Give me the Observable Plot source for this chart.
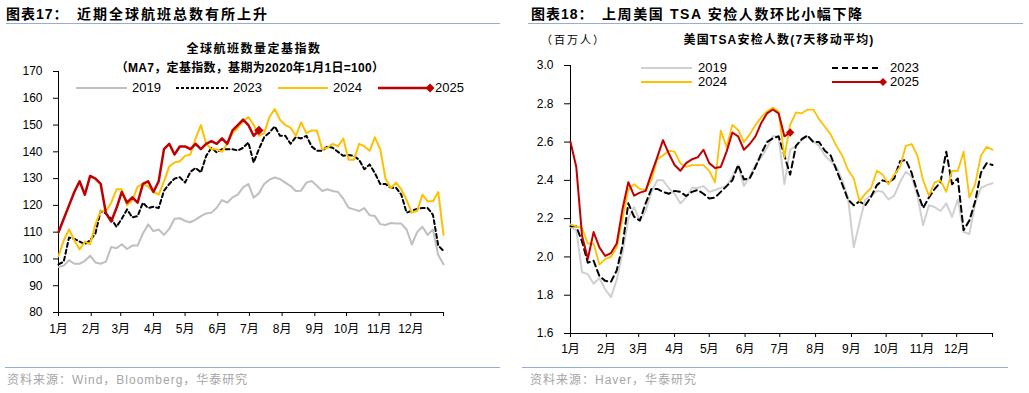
<!DOCTYPE html>
<html><head><meta charset="utf-8">
<script src="https://cdn.jsdelivr.net/npm/d3@7"></script>
<script src="https://cdn.jsdelivr.net/npm/@observablehq/plot@0.6"></script>
<style>
body{margin:0;background:#fff;}
#root{position:relative;width:1029px;height:393px;overflow:hidden;font-family:"Liberation Sans","Noto Sans CJK SC",sans-serif;color:#000;background:#fff;}
.abs{position:absolute;white-space:nowrap;}
.title{font-size:14px;font-weight:bold;line-height:16px;letter-spacing:2px;}
.hr{position:absolute;height:0;border-top:1.5px solid #94aed4;}
.src{font-size:12px;color:#a6a6a6;letter-spacing:1px;line-height:14px;}
.ctitle{font-size:12px;font-weight:bold;line-height:14px;letter-spacing:1.5px;transform:translateX(-50%);}
.leg{font-size:13px;line-height:16px;}
.chart{position:absolute;}
</style></head><body><div id="root"></div>
<script>
// ---------- data ----------
const STEP_DAYS = 5; // values are read every 5 days starting Jan 1
const monthLabels = ["1月","2月","3月","4月","5月","6月","7月","8月","9月","10月","11月","12月"];
const seriesNames = ["2019","2023","2024","2025"];

// Global flights index (MA7, 2020-01-01 = 100)
const flights2019 = [97,97.5,99.5,98.2,98.2,99.3,101.2,98.7,98.2,99,104.5,104,105.5,103.7,105,105,109.5,112.9,110.4,111,109,111.2,115,115.2,114.2,113.7,114.7,116,117,117.3,119.1,122,121,123,124,126.7,128,122.9,124.5,128,129.6,130.4,129.8,128.5,127.2,125.4,125.5,128.5,129.1,127.3,125.4,126,125.4,125,122.5,119.1,118.5,117.9,119,116.3,116,113,112.7,113.4,113.2,113.2,111,105.4,110,112,109,111,101.5,98];
const flights2023 = [98,99,108,107.5,106.5,105.5,107,109.5,118,117,115,112,115,118.5,115.5,116,121,119,119.5,119,125.5,128,130,130.5,128.5,132.5,134,132.3,138.5,141.5,139.8,141,141,141,140.5,141.5,143.5,136,141,145.5,147.2,149.5,146,146,143,145.5,145,146,142,140.4,140.4,142,141.5,140,138.5,138.8,138.5,137,133.5,135.3,132,128,128,126.6,126.6,124,117.3,118,118.7,119,119,116.5,105,103];
const flights2024 = [101,107,111,107,103.5,106.5,105.5,113,118,118,121,126,126,120,122,127,128,127,125,124,129,134.5,136,136.5,138.5,139,145,150,143,141,141,140,143,147,149,151.5,153,150,146,147,153,156,152,150,149,146,151,147,148,148,141,141.5,143,142,145,137,137,143,142,140.4,145.4,141,130,126.5,128.5,126,122,117.3,118,124,121.5,121.5,125,109];
const flights2025 = [110,115,120,125,129,124,131,130,128,117,114,119,125,121,123,121,128,129,125,129,141,143,139,142,142,141,143,141,143,144,143,145,143,148,150,152,150,146,148];

// US TSA checkpoint numbers (7-day MA, millions)
const tsa2019 = [2.155,2.14,1.92,1.91,1.86,1.89,1.83,1.79,1.88,2.02,2.20,2.26,2.19,2.24,2.34,2.40,2.40,2.36,2.33,2.28,2.31,2.36,2.36,2.37,2.34,2.35,2.36,2.37,2.42,2.48,2.37,2.42,2.48,2.52,2.57,2.63,2.63,2.38,2.56,2.58,2.61,2.63,2.605,2.58,2.53,2.50,2.47,2.40,2.31,2.05,2.18,2.30,2.32,2.345,2.34,2.30,2.32,2.39,2.445,2.42,2.32,2.165,2.27,2.26,2.24,2.28,2.21,2.30,2.13,2.12,2.28,2.36,2.375,2.385];
const tsa2023 = [2.16,2.16,2.08,1.97,1.98,1.90,1.875,1.87,1.93,2.06,2.28,2.21,2.19,2.28,2.355,2.355,2.34,2.33,2.345,2.34,2.318,2.34,2.35,2.33,2.305,2.31,2.34,2.37,2.40,2.48,2.405,2.41,2.47,2.54,2.60,2.62,2.63,2.53,2.43,2.58,2.615,2.635,2.60,2.60,2.555,2.53,2.455,2.38,2.30,2.27,2.29,2.27,2.315,2.375,2.40,2.39,2.41,2.50,2.507,2.44,2.34,2.255,2.31,2.355,2.39,2.55,2.38,2.41,2.14,2.19,2.29,2.44,2.49,2.48];
const tsa2024 = [2.17,2.16,2.15,2.07,2.07,1.96,1.99,2.00,2.05,2.20,2.35,2.38,2.355,2.35,2.40,2.51,2.53,2.555,2.55,2.49,2.47,2.48,2.48,2.48,2.45,2.39,2.66,2.575,2.69,2.663,2.60,2.64,2.69,2.73,2.76,2.78,2.76,2.52,2.69,2.755,2.75,2.77,2.77,2.72,2.68,2.64,2.58,2.53,2.455,2.41,2.29,2.33,2.36,2.45,2.43,2.38,2.43,2.47,2.58,2.59,2.53,2.40,2.32,2.39,2.40,2.34,2.45,2.45,2.55,2.31,2.38,2.53,2.575,2.56];
const tsa2025 = [2.60,2.47,2.11,1.99,2.13,2.05,2.005,2.02,2.07,2.25,2.39,2.32,2.336,2.345,2.435,2.52,2.61,2.54,2.48,2.45,2.49,2.51,2.52,2.56,2.49,2.465,2.47,2.55,2.65,2.63,2.56,2.59,2.63,2.70,2.75,2.77,2.75,2.63,2.65];

const leftYTicks = [80,90,100,110,120,130,140,150,160,170];
const rightYTicks = [1.6,1.8,2.0,2.2,2.4,2.6,2.8,3.0];

// ---------- helpers ----------
const yearStart = new Date(Date.UTC(2019,0,1));
const yearEnd = new Date(Date.UTC(2020,0,1));
const dayDate = i => new Date(Date.UTC(2019,0,1 + i*STEP_DAYS));
const toRows = (vals) => vals.map((v,i)=>({date: dayDate(i), value: v}));
const monthTicks = d3.utcMonth.range(yearStart, new Date(Date.UTC(2020,0,2)));
const fmtMonth = d => d.getUTCFullYear() === 2019 ? monthLabels[d.getUTCMonth()] : "";

const COLORS = {"2019":"#bfbfbf","2023":"#000000","2024":"#ffc000","2025":"#c00000"};
const root = document.getElementById("root");

function addDiv(cls, text, css){
  const d = document.createElement("div");
  d.className = "abs " + (cls||"");
  d.textContent = text;
  Object.assign(d.style, css);
  root.appendChild(d);
  return d;
}
function addHr(x1,x2,y){
  const d = document.createElement("div");
  d.className = "hr";
  Object.assign(d.style,{left:x1+"px",top:y+"px",width:(x2-x1)+"px"});
  root.appendChild(d);
}
function legendItem(x, y, w, name, opts){
  const ns = "http://www.w3.org/2000/svg";
  const svg = document.createElementNS(ns,"svg");
  svg.setAttribute("width", w+8); svg.setAttribute("height", 12);
  svg.style.position="absolute"; svg.style.left=(x)+"px"; svg.style.top=(y-6)+"px"; svg.style.overflow="visible";
  const ln = document.createElementNS(ns,"line");
  ln.setAttribute("x1",0); ln.setAttribute("x2",w); ln.setAttribute("y1",6); ln.setAttribute("y2",6);
  ln.setAttribute("stroke", opts.color); ln.setAttribute("stroke-width", opts.width||2);
  if (opts.dash) ln.setAttribute("stroke-dasharray", opts.dash);
  svg.appendChild(ln);
  if (opts.diamond){
    const p = document.createElementNS(ns,"path");
    const s = opts.diamond;
    p.setAttribute("d",`M${w},${6-s}L${w+s},6L${w},${6+s}L${w-s},6Z`);
    p.setAttribute("fill", opts.color);
    svg.appendChild(p);
  }
  root.appendChild(svg);
  addDiv("leg", name, {left:(x+w+opts.gap)+"px", top:(y-8)+"px"});
}

// ---------- headers ----------
addDiv("title","图表17：",{left:"6px",top:"6px",letterSpacing:"1px"});
addDiv("title","近期全球航班总数有所上升",{left:"77px",top:"6px"});
addHr(6,500,23);
addDiv("title","图表18：",{left:"531px",top:"6px",letterSpacing:"1px"});
addDiv("title","上周美国 TSA 安检人数环比小幅下降",{left:"602px",top:"6px",letterSpacing:"1.6px"});
addHr(528,1023,23);

addDiv("ctitle","全球航班数量定基指数",{left:"254px",top:"42px"});
addDiv("ctitle","（MA7，定基指数，基期为2020年1月1日=100）",{left:"250px",top:"61px",letterSpacing:"0.3px"});
addDiv("","（百万人）",{left:"541px",top:"33px",fontSize:"11px",lineHeight:"14px",letterSpacing:"2px"});
addDiv("ctitle","美国TSA安检人数(7天移动平均)",{left:"779px",top:"33px",letterSpacing:"1.2px"});

// ---------- charts ----------
const styleL = {
  "2019": {stroke: COLORS["2019"], strokeWidth: 2},
  "2023": {stroke: COLORS["2023"], strokeWidth: 2, strokeDasharray: "4,3"},
  "2024": {stroke: COLORS["2024"], strokeWidth: 2},
  "2025": {stroke: COLORS["2025"], strokeWidth: 2.5}
};
const styleR = {
  "2019": {stroke: "#d0d0d0", strokeWidth: 2},
  "2023": {stroke: COLORS["2023"], strokeWidth: 2, strokeDasharray: "6,4"},
  "2024": {stroke: COLORS["2024"], strokeWidth: 1.8},
  "2025": {stroke: COLORS["2025"], strokeWidth: 2}
};
const plotStyle = {fontFamily:"'Liberation Sans','Noto Sans CJK SC',sans-serif", fontSize:"12px", color:"#000", background:"transparent", overflow:"visible"};

const leftData = {"2019": flights2019, "2023": flights2023, "2024": flights2024, "2025": flights2025};
const rightData = {"2019": tsa2019, "2023": tsa2023, "2024": tsa2024, "2025": tsa2025};

const left = Plot.plot({
  width: 500, height: 290,
  marginTop: 11, marginBottom: 38, marginLeft: 58, marginRight: 57,
  x: {type:"utc", domain:[yearStart, yearEnd], label:null},
  y: {domain:[80,170], label:null},
  style: plotStyle,
  marks: [
    Plot.axisY({ticks: leftYTicks, tickSize: 5, tickPadding: 11, fontSize: 12, label: null}),
    Plot.axisX({ticks: monthTicks, tickFormat: fmtMonth, tickSize: 4, tickPadding: 8, fontSize: 12, label: null}),
    Plot.ruleX([yearStart], {stroke:"#000", strokeWidth:1}),
    Plot.ruleY([80], {stroke:"#000", strokeWidth:1}),
    ...seriesNames.map(s => Plot.line(toRows(leftData[s]), {x:"date", y:"value", ...styleL[s]})),
    Plot.dot(toRows(flights2025).slice(-1), {x:"date", y:"value", symbol:"diamond2", r:4.2, fill: COLORS["2025"], stroke:"none"})
  ]
});
left.classList.add("chart");
Object.assign(left.style,{left:"0px", top:"60px"});
root.appendChild(left);

const right = Plot.plot({
  width: 500, height: 310,
  marginTop: 10, marginBottom: 32, marginLeft: 55, marginRight: 23,
  x: {type:"utc", domain:[yearStart, yearEnd], label:null},
  y: {domain:[1.6,3.0], label:null},
  style: plotStyle,
  marks: [
    Plot.axisY({ticks: rightYTicks, tickFormat: d3.format(".1f"), tickSize: 6, tickPadding: 11, fontSize: 12, label: null}),
    Plot.axisX({ticks: monthTicks, tickFormat: fmtMonth, tickSize: 4, tickPadding: 7, fontSize: 12, label: null}),
    Plot.ruleX([yearStart], {stroke:"#000", strokeWidth:1}),
    Plot.ruleY([1.6], {stroke:"#000", strokeWidth:1}),
    ...seriesNames.map(s => Plot.line(toRows(rightData[s]), {x:"date", y:"value", ...styleR[s]})),
    Plot.dot(toRows(tsa2025).slice(-1), {x:"date", y:"value", symbol:"diamond2", r:3.8, fill: COLORS["2025"], stroke:"none"})
  ]
});
right.classList.add("chart");
Object.assign(right.style,{left:"515px", top:"55px"});
root.appendChild(right);

// ---------- legends ----------
legendItem(76, 88, 51, "2019", {color:"#bfbfbf", width:2, gap:5});
legendItem(176, 88, 52, "2023", {color:"#000", width:2, dash:"3,2", gap:5});
legendItem(278, 88, 50, "2024", {color:"#ffc000", width:2, gap:5});
legendItem(378, 88, 52, "2025", {color:"#c00000", width:2.5, diamond:4.5, gap:5});

legendItem(641, 68, 51, "2019", {color:"#d0d0d0", width:2, gap:6});
legendItem(832, 68, 50, "2023", {color:"#000", width:2, dash:"6,4", gap:8});
legendItem(641, 82, 51, "2024", {color:"#ffc000", width:2, gap:6});
legendItem(832, 82, 51, "2025", {color:"#c00000", width:2, diamond:4, gap:7});

// ---------- footers ----------
addHr(5,500,367);
addDiv("src","资料来源：Wind，Bloomberg，华泰研究",{left:"7px",top:"373px"});
addHr(522,1008,367);
addDiv("src","资料来源：Haver，华泰研究",{left:"530px",top:"373px"});
</script>
</body></html>
